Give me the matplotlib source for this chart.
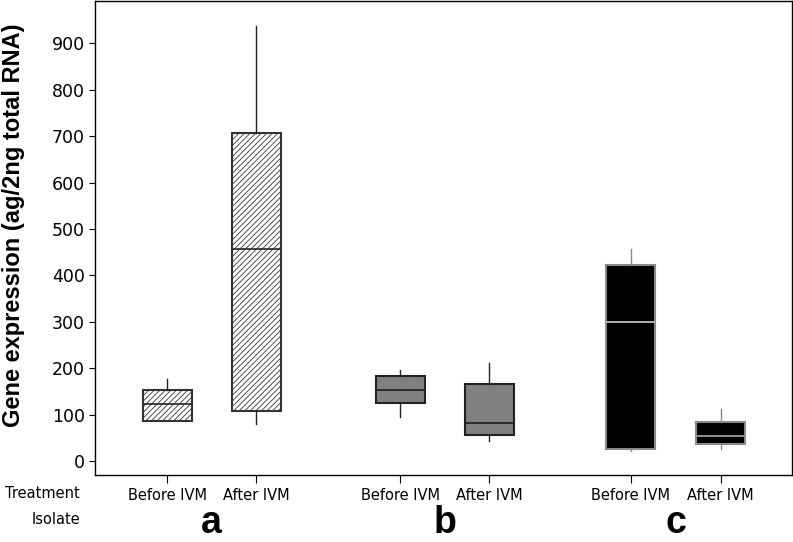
import matplotlib.pyplot as plt
from matplotlib.transforms import blended_transform_factory

# box statistics (ag/2ng total RNA)
labels = ['Before IVM', 'After IVM', 'Before IVM', 'After IVM', 'Before IVM', 'After IVM']
isolates = ['a', 'b', 'c']
whislo = [87, 80, 95, 43, 22, 25]
q1 = [87, 108, 125, 57, 26, 36]
med = [122, 457, 153, 81, 300, 55]
q3 = [153, 707, 183, 167, 422, 85]
whishi = [177, 937, 196, 212, 457, 112]

positions = [1, 2, 3.62, 4.62, 6.21, 7.22]
facecolors = ['white', 'white', '#808080', '#808080', 'black', 'black']
edgecolors = ['#333333', '#333333', '#222222', '#222222', '#888888', '#888888']
hatches = ['//////', '//////', '', '', '', '']
medcolors = ['#333333', '#333333', '#222222', '#222222', '#bbbbbb', '#999999']
whiskcolors = ['#222222', '#222222', '#222222', '#222222', '#888888', '#888888']

fig = plt.figure(figsize=(7.93, 5.42), dpi=100)
ax = fig.add_axes([0.12, 0.1236, 0.8787, 0.8744])

stats = []
for i in range(len(labels)):
    stats.append({'whislo': whislo[i], 'q1': q1[i], 'med': med[i],
                  'q3': q3[i], 'whishi': whishi[i], 'fliers': []})

plt.rcParams['hatch.color'] = '#666666'
plt.rcParams['hatch.linewidth'] = 0.6
bp = ax.bxp(stats, positions=positions, widths=0.55, patch_artist=True,
            showcaps=False)
for i, box in enumerate(bp['boxes']):
    box.set_facecolor(facecolors[i])
    box.set_edgecolor(edgecolors[i])
    box.set_hatch(hatches[i])
    box.set_linewidth(1.5)
    bp['medians'][i].set_color(medcolors[i])
    bp['medians'][i].set_linewidth(1.3)
    for w in bp['whiskers'][2 * i:2 * i + 2]:
        w.set_color(whiskcolors[i])
        w.set_linewidth(1.0)

ax.set_xlim(0.19, 8.02)
ax.set_ylim(-30, 991)
ax.set_yticks(range(0, 901, 100))
ax.tick_params(axis='y', labelsize=12.5, length=4, width=0.8)
ax.set_xticks(positions)
ax.set_xticklabels(labels, fontsize=10.5)
ax.tick_params(axis='x', length=6, width=0.8, direction='out', pad=3)
for s in ax.spines.values():
    s.set_linewidth(1.0)

# y label placed by hand, centred near x = 14 px
fig.text(14 / 793, 1 - 225 / 542, 'Gene expression (ag/2ng total RNA)', rotation=90,
         ha='center', va='center', fontsize=17, fontweight='bold',
         family='Liberation Sans')

# row labels under the axis
fig.text(80 / 793, 1 - 494 / 542, 'Treatment', ha='right', va='center', fontsize=10.5)
fig.text(80 / 793, 1 - 519 / 542, 'Isolate', ha='right', va='center', fontsize=10.5)
trans = blended_transform_factory(ax.transData, fig.transFigure)
for j, name in enumerate(isolates):
    xc = (positions[2 * j] + positions[2 * j + 1]) / 2
    ax.text(xc, 1 - 541 / 542, name, transform=trans,
            ha='center', va='bottom', fontsize=27, fontweight='bold',
            family='Liberation Sans')

fig.savefig('out.png', dpi=100)
